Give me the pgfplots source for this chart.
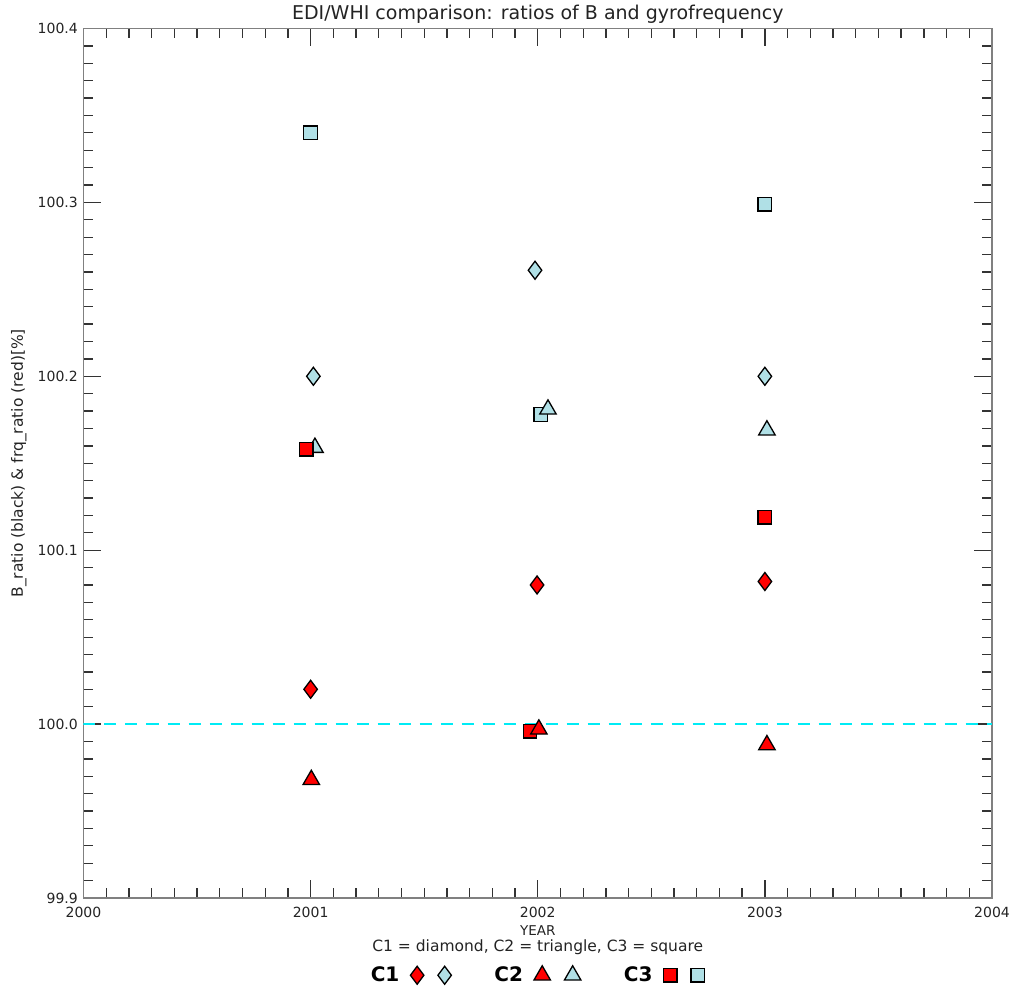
\documentclass[border=0pt]{standalone}
\usepackage{pgfplots}
\pgfplotsset{compat=1.18}
\usepackage{fontspec}
\setmainfont{DejaVu Sans}
\definecolor{lb}{RGB}{176,224,230}
\definecolor{tx}{RGB}{35,35,35}
\definecolor{cy}{RGB}{0,235,245}
\begin{document}
\begin{tikzpicture}
\useasboundingbox (-83.5pt,-91pt) rectangle (930.5pt,898pt);
\begin{axis}[
  name=ax,
  at={(0pt,0pt)}, anchor=south west,
  scale only axis, width=908.5pt, height=869.5pt,
  xmin=2000, xmax=2004, ymin=99.9, ymax=100.4,
  xtick={2000,2001,2002,2003,2004},
  ytick={99.9,100.0,100.1,100.2,100.3,100.4},
  minor x tick num=9, minor y tick num=9,
  scaled x ticks=false, scaled y ticks=false,
  tick align=inside, major tick length=18pt, minor tick length=10pt,
  axis line style={black!50, line width=1.3pt},
  every tick/.style={black!80, line width=1.3pt},
  /pgf/number format/assume math mode=true,
  tick label style={font=\fontsize{14}{16}\selectfont, text=tx},
  xticklabel style={anchor=base, yshift=-19pt, /pgf/number format/1000 sep={}},
  yticklabel style={anchor=east, inner sep=0pt, xshift=-5.5pt,
    /pgf/number format/.cd, fixed, fixed zerofill, precision=1},
  title={EDI/WHI comparison: ratios of B and gyrofrequency},
  title style={at={(axis description cs:0.5,1)}, anchor=base, yshift=3pt, inner sep=0pt,
    font=\fontsize{19}{21}\selectfont, text=tx},
  xlabel={YEAR},
  xlabel style={at={(axis description cs:0.5,0)}, anchor=base, yshift=-37pt, inner sep=0pt,
    font=\fontsize{13.5}{15}\selectfont, text=tx},
  ylabel={B\_ratio (black) \& frq\_ratio (red)[\%]},
  ylabel style={at={(axis description cs:-0.0666,0.5)}, anchor=base, inner sep=0pt,
    font=\fontsize{15.5}{17}\selectfont, text=tx},
  legend image code/.code={\draw[#1] plot coordinates {(0pt,0pt)};},
  legend plot pos=right,
  legend style={at={(axis description cs:0.5,0)}, anchor=center, yshift=-77pt,
    draw=none, fill=none, legend columns=6, legend cell align=left,
    font=\fontsize{20}{22}\selectfont\bfseries, text=black,
    nodes={inner sep=0pt},
    /tikz/every odd column/.append style={column sep=11pt},
    /tikz/every even column/.append style={column sep=2pt}},
]
% reference line
\addplot[cy, line width=2pt, dash pattern=on 12pt off 9pt, forget plot]
  coordinates {(2000,100.0) (2004,100.0)};
% blue (light) symbols
\addplot[only marks, mark=diamond*, mark size=9pt, forget plot,
  mark options={fill=lb, draw=black, line width=1.3pt}]
  coordinates {(2001.012,100.200) (2001.988,100.261) (2003.0,100.200)};
\addplot[only marks, mark=square*, mark size=6.8pt, forget plot,
  mark options={fill=lb, draw=black, line width=1.3pt}]
  coordinates {(2001.0,100.340) (2002.014,100.178) (2003.0,100.299)};
\addplot[only marks, mark=triangle*, mark size=9.5pt, forget plot,
  mark options={fill=lb, draw=black, line width=1.3pt}]
  coordinates {(2001.019,100.159) (2002.045,100.181) (2003.009,100.169)};
% red symbols
\addplot[only marks, mark=diamond*, mark size=9pt, forget plot,
  mark options={fill=red, draw=black, line width=1.3pt}]
  coordinates {(2001.0,100.020) (2001.997,100.080) (2003.0,100.082)};
\addplot[only marks, mark=square*, mark size=6.8pt, forget plot,
  mark options={fill=red, draw=black, line width=1.3pt}]
  coordinates {(2000.980,100.158) (2001.966,99.996) (2003.0,100.119)};
\addplot[only marks, mark=triangle*, mark size=9.5pt, forget plot,
  mark options={fill=red, draw=black, line width=1.3pt}]
  coordinates {(2001.003,99.968) (2002.005,99.997) (2003.009,99.988)};
% legend
\addlegendimage{mark=diamond*, mark size=9pt, draw=black, fill=red, line width=1.3pt}
\addlegendentry{C1}
\addlegendimage{mark=diamond*, mark size=9pt, draw=black, fill=lb, line width=1.3pt}
\addlegendentry{}
\addlegendimage{mark=triangle*, mark size=9.5pt, draw=black, fill=red, line width=1.3pt}
\addlegendentry{\hspace*{41pt}C2}
\addlegendimage{mark=triangle*, mark size=9.5pt, draw=black, fill=lb, line width=1.3pt}
\addlegendentry{}
\addlegendimage{mark=square*, mark size=6.8pt, draw=black, fill=red, line width=1.3pt}
\addlegendentry{\hspace*{41pt}C3}
\addlegendimage{mark=square*, mark size=6.8pt, draw=black, fill=lb, line width=1.3pt}
\addlegendentry{}
\end{axis}
\node[anchor=base, inner sep=0pt, font=\fontsize{15.5}{17}\selectfont, text=tx]
  at ([yshift=-53pt]ax.south) {C1 = diamond, C2 = triangle, C3 = square};
\end{tikzpicture}
\end{document}
